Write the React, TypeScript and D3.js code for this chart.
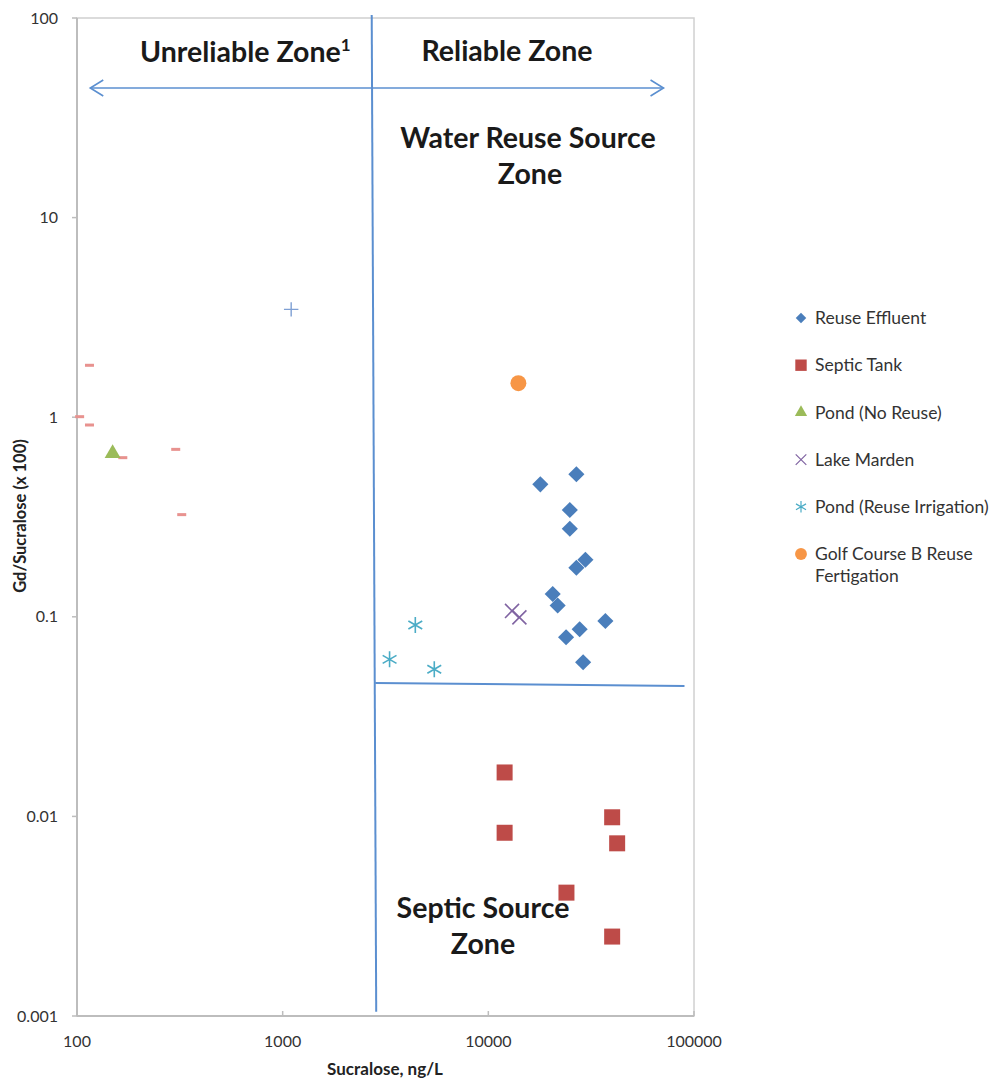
import * as d3 from "d3";

// sucralose (ng/L), Gd/sucralose (x100)
const reuseEffluent: [number, number][] = [
  [17900, 0.461], [26800, 0.518], [24900, 0.343], [24900, 0.276],
  [26800, 0.176], [29650, 0.193], [20560, 0.13], [21730, 0.114],
  [23880, 0.079], [27800, 0.0866], [37070, 0.0953], [28900, 0.0592],
];
const septicTank: [number, number][] = [
  [12000, 0.0166], [12000, 0.00828], [40000, 0.0099],
  [42300, 0.00733], [23980, 0.00415], [40000, 0.0025],
];
const pondNoReuse: [number, number][] = [[149, 0.659]];
const lakeMarden: [number, number][] = [[13040, 0.107], [14160, 0.0994]];
const pondReuseIrrigation: [number, number][] = [[4415, 0.091], [3310, 0.0612], [5460, 0.0546]];
const golfCourseB: [number, number][] = [[14000, 1.48]];
// two unlabeled series (not in legend)
const otherPlus: [number, number][] = [[1100, 3.47]];
const otherDash: [number, number][] = [
  [115, 1.82], [103, 1.006], [115, 0.914], [167, 0.627], [302, 0.69], [323, 0.325],
];

const xTicks = [100, 1000, 10000, 100000];
const xTickLabels = ["100", "1000", "10000", "100000"];
const yTicks = [0.001, 0.01, 0.1, 1, 10, 100];
const yTickLabels = ["0.001", "0.01", "0.1", "1", "10", "100"];

// hand drawn zone dividers, in data units
const reliabilityLine: [number, number][] = [[2710, 103.5], [2850, 0.00105]];
const septicLine: [number, number][] = [[2820, 0.0466], [89900, 0.045]];
const zoneArrow: [number, number][] = [[116, 44.6], [71100, 44.6]];

const legendNames = [
  ["Reuse Effluent"],
  ["Septic Tank"],
  ["Pond (No Reuse)"],
  ["Lake Marden"],
  ["Pond (Reuse Irrigation)"],
  ["Golf Course B Reuse", "Fertigation"],
];

const W = 1000;
const H = 1081;
const left = 77, right = 694, top = 18, bottom = 1016;
const font = "Lato, 'Open Sans', sans-serif";

const x = d3.scaleLog().domain([100, 100000]).range([left, right]);
const y = d3.scaleLog().domain([0.001, 100]).range([bottom, top]);

type Style = { fill?: string; stroke?: string; sw?: number; path: string; rot?: number };

const styles: Style[] = [
  { fill: "#4a7ebb", path: d3.symbol(d3.symbolSquare, 130)()!, rot: 45 },
  { fill: "#be4b48", path: d3.symbol(d3.symbolSquare, 256)()! },
  { fill: "#9bbb59", path: d3.symbol(d3.symbolTriangle, 110)()! },
  { stroke: "#8064a2", sw: 1.6, path: d3.symbol(d3.symbolX, 130)()! },
  { stroke: "#4bacc6", sw: 1.6, path: d3.symbol(d3.symbolAsterisk, 180)()! },
  { fill: "#f79646", path: d3.symbol(d3.symbolCircle, 200)()! },
];
const legendStyles: Style[] = [
  { fill: "#4a7ebb", path: d3.symbol(d3.symbolSquare, 55)()!, rot: 45 },
  { fill: "#be4b48", path: d3.symbol(d3.symbolSquare, 130)()! },
  { fill: "#9bbb59", path: d3.symbol(d3.symbolTriangle, 65)()! },
  { stroke: "#8064a2", sw: 1.2, path: d3.symbol(d3.symbolX, 75)()! },
  { stroke: "#4bacc6", sw: 1.2, path: d3.symbol(d3.symbolAsterisk, 95)()! },
  { fill: "#f79646", path: d3.symbol(d3.symbolCircle, 110)()! },
];
const seriesData = [reuseEffluent, septicTank, pondNoReuse, lakeMarden, pondReuseIrrigation, golfCourseB];

const plusPath = d3.symbol(d3.symbolPlus, 70)()!;
const line = d3.line<[number, number]>().x((d) => x(d[0])).y((d) => y(d[1]));

function Marker({ s, cx, cy }: { s: Style; cx: number; cy: number }) {
  return (
    <path
      d={s.path}
      transform={`translate(${cx},${cy})${s.rot ? ` rotate(${s.rot})` : ""}`}
      fill={s.fill ?? "none"}
      stroke={s.stroke ?? "none"}
      strokeWidth={s.sw ?? 0}
    />
  );
}

export default function App() {
  const ay = y(zoneArrow[0][1]);
  const ax0 = x(zoneArrow[0][0]);
  const ax1 = x(zoneArrow[1][0]);
  const zoneBlue = "#5b8fd0";

  return (
    <svg
      width={W}
      height={H}
      style={{ position: "absolute", left: 0, top: 0, background: "#fff" }}
      fontFamily={font}
    >
      {/* frame */}
      <rect x={left} y={top} width={right - left} height={bottom - top} fill="none" stroke="#d0d0d0" strokeWidth={1.5} />
      <line x1={left} x2={left} y1={top} y2={bottom} stroke="#bdbdbd" strokeWidth={2} />
      <line x1={left} x2={right} y1={bottom} y2={bottom} stroke="#bdbdbd" strokeWidth={2} />

      {/* y ticks */}
      {yTicks.map((t, i) => (
        <g key={t}>
          <line x1={left - 5} x2={left} y1={y(t)} y2={y(t)} stroke="#bdbdbd" strokeWidth={1.5} />
          <text x={58} y={y(t)} dy="0.35em" textAnchor="end" fontSize={16} fill="#333">
            {yTickLabels[i]}
          </text>
        </g>
      ))}
      {/* x ticks */}
      {xTicks.map((t, i) => (
        <g key={t}>
          <line x1={x(t)} x2={x(t)} y1={bottom - 5} y2={bottom} stroke="#bdbdbd" strokeWidth={1.5} />
          <text x={x(t)} y={1047} textAnchor="middle" fontSize={16} fill="#333">
            {xTickLabels[i]}
          </text>
        </g>
      ))}

      {/* axis titles */}
      <text x={385} y={1075} textAnchor="middle" fontSize={17} fontWeight="bold" fill="#222">
        Sucralose, ng/L
      </text>
      <text
        transform="translate(26,516) rotate(-90)"
        textAnchor="middle"
        fontSize={16.5}
        fontWeight="bold"
        fill="#222"
      >
        Gd/Sucralose (x 100)
      </text>

      {/* zone dividers */}
      <path d={line(reliabilityLine)!} stroke={zoneBlue} strokeWidth={2} fill="none" />
      <path d={line(septicLine)!} stroke={zoneBlue} strokeWidth={2} fill="none" />
      <path d={line(zoneArrow)!} stroke={zoneBlue} strokeWidth={1.6} fill="none" />
      <path d={`M${ax0 + 13},${ay - 8}L${ax0},${ay}L${ax0 + 13},${ay + 8}`} stroke={zoneBlue} strokeWidth={1.6} fill="none" />
      <path d={`M${ax1 - 13},${ay - 8}L${ax1},${ay}L${ax1 - 13},${ay + 8}`} stroke={zoneBlue} strokeWidth={1.6} fill="none" />

      {/* zone labels */}
      <g fontSize={28.5} fontWeight="bold" fill="#1a1a1a">
        <text x={140} y={62}>
          Unreliable Zone<tspan fontSize={17} dy={-11}>1</tspan>
        </text>
        <text x={507} y={61} textAnchor="middle">Reliable Zone</text>
        <text x={528} y={148} textAnchor="middle">Water Reuse Source</text>
        <text x={530} y={184} textAnchor="middle">Zone</text>
        <text x={483} y={918} textAnchor="middle">Septic Source</text>
        <text x={483} y={954} textAnchor="middle">Zone</text>
      </g>

      {/* unlabeled series */}
      {otherDash.map((d, i) => (
        <rect key={i} x={x(d[0]) - 4.5} y={y(d[1]) - 1.5} width={9} height={3} fill="#e8928f" />
      ))}
      {otherPlus.map((d, i) => (
        <path key={i} d={plusPath} transform={`translate(${x(d[0])},${y(d[1])})`} stroke="#7fa0d4" strokeWidth={1.4} fill="none" />
      ))}

      {/* data series */}
      {seriesData.map((data, si) =>
        data.map((d, i) => <Marker key={`${si}-${i}`} s={styles[si]} cx={x(d[0])} cy={y(d[1])} />)
      )}

      {/* legend */}
      {legendNames.map((lines, i) => {
        const ly = 318 + i * 47.2;
        return (
          <g key={i}>
            <Marker s={legendStyles[i]} cx={801} cy={ly} />
            {lines.map((t, j) => (
              <text key={j} x={815} y={ly + j * 22} dy="0.35em" fontSize={17.5} fill="#333">
                {t}
              </text>
            ))}
          </g>
        );
      })}
    </svg>
  );
}
